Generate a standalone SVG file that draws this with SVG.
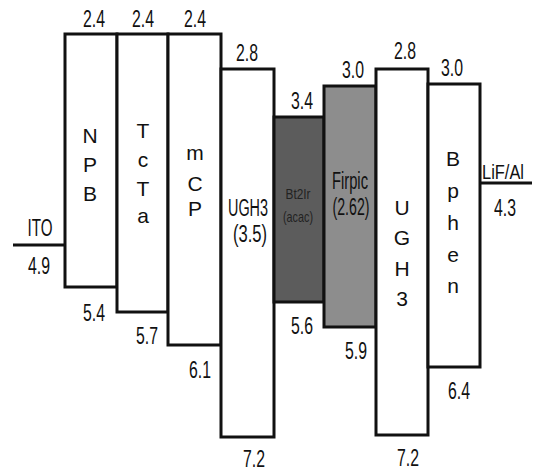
<svg xmlns="http://www.w3.org/2000/svg" width="534" height="472" viewBox="0 0 534 472">
<style>
text{font-family:"Liberation Sans",Arial,sans-serif;font-size:23px;fill:#111;text-anchor:middle}
.box{stroke:#111;stroke-width:3;fill:#fff}
.lev{stroke:#111;stroke-width:3;fill:none}
.v{font-size:21px}
.s{font-size:15px}
</style>
<rect width="534" height="472" fill="#fff"/>
<g id="connectors">
<line class="lev" x1="13" y1="245" x2="65" y2="245"/>
<line class="lev" x1="480" y1="183" x2="532" y2="183"/>
</g>
<g id="ITO">
<text x="40" y="236" textLength="25" lengthAdjust="spacingAndGlyphs">ITO</text>
<text x="39" y="274" textLength="22" lengthAdjust="spacingAndGlyphs">4.9</text>
</g>
<g id="NPB">
<rect class="box" x="65" y="34" width="52" height="253"/>
<text x="94" y="27" textLength="22" lengthAdjust="spacingAndGlyphs">2.4</text>
<text x="94" y="321" textLength="22" lengthAdjust="spacingAndGlyphs">5.4</text>
<text class="v" x="90" y="143">N</text>
<text class="v" x="90" y="172">P</text>
<text class="v" x="90" y="201">B</text>
</g>
<g id="TcTa">
<rect class="box" x="117" y="34" width="51" height="278"/>
<text x="143" y="27" textLength="22" lengthAdjust="spacingAndGlyphs">2.4</text>
<text x="147" y="344" textLength="22" lengthAdjust="spacingAndGlyphs">5.7</text>
<text class="v" x="143" y="138">T</text>
<text class="v" x="143" y="167">c</text>
<text class="v" x="143" y="196">T</text>
<text class="v" x="143" y="223">a</text>
</g>
<g id="mCP">
<rect class="box" x="168" y="34" width="53" height="311"/>
<text x="195" y="27" textLength="22" lengthAdjust="spacingAndGlyphs">2.4</text>
<text x="200" y="378" textLength="22" lengthAdjust="spacingAndGlyphs">6.1</text>
<text class="v" x="195" y="160">m</text>
<text class="v" x="195" y="191">C</text>
<text class="v" x="195" y="216">P</text>
</g>
<g id="UGH3a">
<rect class="box" x="221" y="69" width="53" height="368"/>
<text x="247" y="61" textLength="22" lengthAdjust="spacingAndGlyphs">2.8</text>
<text x="254" y="467" textLength="22" lengthAdjust="spacingAndGlyphs">7.2</text>
<text x="248" y="216" textLength="40" lengthAdjust="spacingAndGlyphs">UGH3</text>
<text x="250" y="242" textLength="34" lengthAdjust="spacingAndGlyphs">(3.5)</text>
</g>
<g id="Bt2Ir">
<rect class="box" x="274" y="117" width="50" height="185" style="fill:#5c5c5c"/>
<text x="302" y="109" textLength="22" lengthAdjust="spacingAndGlyphs">3.4</text>
<text x="302" y="334" textLength="22" lengthAdjust="spacingAndGlyphs">5.6</text>
<text class="s" x="298" y="199" style="fill:#222" textLength="25" lengthAdjust="spacingAndGlyphs">Bt2Ir</text>
<text class="s" x="298" y="222" style="fill:#222" textLength="30" lengthAdjust="spacingAndGlyphs">(acac)</text>
</g>
<g id="Firpic">
<rect class="box" x="324" y="86" width="52" height="241" style="fill:#8d8d8d"/>
<text x="353" y="78" textLength="22" lengthAdjust="spacingAndGlyphs">3.0</text>
<text x="356" y="359" textLength="22" lengthAdjust="spacingAndGlyphs">5.9</text>
<text x="350" y="189" textLength="36" lengthAdjust="spacingAndGlyphs">Firpic</text>
<text x="351" y="215" textLength="37" lengthAdjust="spacingAndGlyphs">(2.62)</text>
</g>
<g id="UGH3b">
<rect class="box" x="376" y="69" width="52" height="366"/>
<text x="405" y="59" textLength="22" lengthAdjust="spacingAndGlyphs">2.8</text>
<text x="408" y="466" textLength="22" lengthAdjust="spacingAndGlyphs">7.2</text>
<text class="v" x="402" y="215">U</text>
<text class="v" x="402" y="245">G</text>
<text class="v" x="402" y="276">H</text>
<text class="v" x="402" y="306">3</text>
</g>
<g id="Bphen">
<rect class="box" x="428" y="84" width="52" height="283"/>
<text x="452" y="76" textLength="22" lengthAdjust="spacingAndGlyphs">3.0</text>
<text x="459" y="399" textLength="22" lengthAdjust="spacingAndGlyphs">6.4</text>
<text class="v" x="453" y="166">B</text>
<text class="v" x="453" y="198">p</text>
<text class="v" x="453" y="230">h</text>
<text class="v" x="453" y="262">e</text>
<text class="v" x="453" y="293">n</text>
</g>
<g id="LiFAl">
<text x="503" y="179" style="font-size:21px" textLength="42" lengthAdjust="spacingAndGlyphs">LiF/Al</text>
<text x="505" y="216" textLength="22" lengthAdjust="spacingAndGlyphs">4.3</text>
</g>
</svg>
